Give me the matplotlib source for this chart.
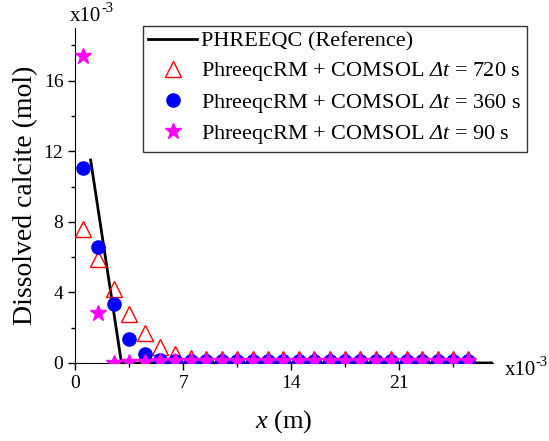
import matplotlib
matplotlib.use("Agg")
import matplotlib.pyplot as plt
from matplotlib.ticker import MultipleLocator

plt.rcParams['font.family'] = 'Liberation Serif'
plt.rcParams['mathtext.fontset'] = 'custom'
plt.rcParams['mathtext.rm'] = 'Liberation Serif'
plt.rcParams['mathtext.it'] = 'Liberation Serif:italic'
plt.rcParams['mathtext.cal'] = 'Liberation Serif:italic'  # used for an italic capital Delta

# x in units of 1e-3 m, calcite in units of 1e-3 mol
ref_x = [1.0, 3.0, 27.0]
ref_y = [11.5, 0.0, 0.0]

pts_x = [0.5 + i for i in range(26)]
dt720 = [7.6, 5.9, 4.2, 2.8, 1.7, 0.9, 0.5, 0.3] + [0.2] * 18
dt360 = [11.05, 6.6, 3.35, 1.35, 0.5, 0.15] + [0.1] * 20
dt90 = [17.4, 2.85, 0.0, 0.05, 0.08] + [0.1] * 21

fig = plt.figure(figsize=(5.49, 4.41), dpi=100)
ax = fig.add_axes([0.137, 0.177, 0.761, 0.76])

ax.plot(ref_x, ref_y, color='black', linewidth=2, label='PHREEQC (Reference)', zorder=2)
ax.plot(pts_x, dt720, linestyle='none', marker='^', markersize=11, markerfacecolor='none',
        markeredgecolor='red', markeredgewidth=1, label=r'PhreeqcRM + COMSOL $\mathcal{\Delta t}$ = 720 s', zorder=3)
ax.plot(pts_x, dt360, linestyle='none', marker='o', markersize=9.5, color='blue',
        label=r'PhreeqcRM + COMSOL $\mathcal{\Delta t}$ = 360 s', zorder=4)
ax.plot(pts_x, dt90, linestyle='none', marker='*', markersize=12, color='magenta',
        label=r'PhreeqcRM + COMSOL $\mathcal{\Delta t}$ = 90 s', zorder=5)

ax.set_xlim(0, 27.1)
ax.set_ylim(0, 19)
ax.xaxis.set_major_locator(MultipleLocator(7))
ax.xaxis.set_minor_locator(MultipleLocator(3.5))
ax.yaxis.set_major_locator(MultipleLocator(4))
ax.yaxis.set_minor_locator(MultipleLocator(2))
ax.tick_params(which='major', direction='out', length=5, width=1, labelsize=14)
ax.tick_params(which='minor', direction='out', length=3, width=1)
ax.spines['top'].set_visible(False)
ax.spines['right'].set_visible(False)

ax.set_ylabel('Dissolved calcite (mol)', fontsize=20)
ax.set_xlabel(r'$x$ (m)', fontsize=19, labelpad=12)

# axis multipliers, written with a plain hyphen like the original
fig.text(70 / 549, 1 - 21 / 441, 'x10', fontsize=15, ha='left', va='baseline')
fig.text(101 / 549, 1 - 12 / 441, '-3', fontsize=10.5, ha='left', va='baseline')
fig.text(505 / 549, 1 - 375 / 441, 'x10', fontsize=15, ha='left', va='baseline')
fig.text(536 / 549, 1 - 366 / 441, '-3', fontsize=10.5, ha='left', va='baseline')

leg = ax.legend(loc='upper right', bbox_to_anchor=(1.081, 1.006), fontsize=16, frameon=True,
                fancybox=False, edgecolor='black', handlelength=2.2, handletextpad=0.2,
                borderpad=0.25, labelspacing=0.38, borderaxespad=0)
leg.get_frame().set_linewidth(1)

fig.savefig('out.png', dpi=100)
